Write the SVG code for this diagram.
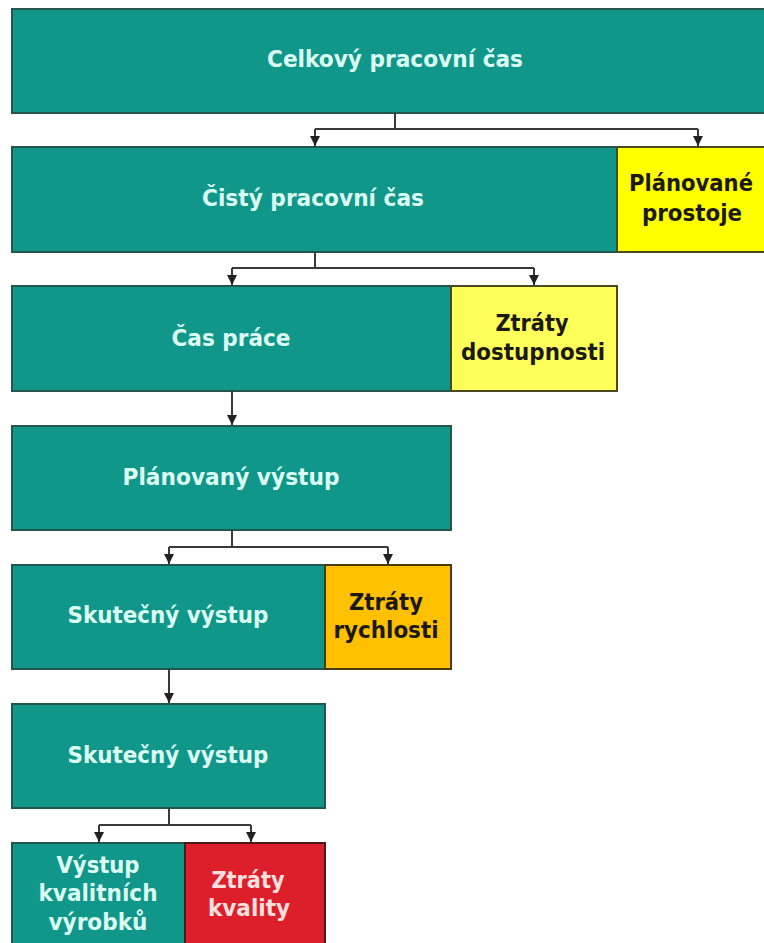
<svg xmlns="http://www.w3.org/2000/svg" width="764" height="943" viewBox="0 0 764 943">
<style>
.t{fill:#11968a;stroke:#23564d;stroke-width:2}
.y{fill:#ffff00;stroke:#4a4a20;stroke-width:2}
.ly{fill:#ffff5a;stroke:#4a4a20;stroke-width:2}
.o{fill:#ffc000;stroke:#4a3a10;stroke-width:2}
.r{fill:#dc1f2b;stroke:#4a1a1a;stroke-width:2}
text{font-family:"DejaVu Sans","Verdana",sans-serif;font-weight:bold;font-size:23px;text-anchor:middle}
.lt{fill:#dcfff4}
.dk{fill:#1c1a10}
.pk{fill:#ffe0e0}
.c{fill:none;stroke:#3a3a3a;stroke-width:2}
</style>
<defs>
<marker id="ah" viewBox="0 0 10 10" refX="10" refY="5" markerWidth="10" markerHeight="10" markerUnits="userSpaceOnUse" orient="auto">
<path d="M0,0 L10,5 L0,10 Z" fill="#222"/>
</marker>
</defs>
<rect width="764" height="943" fill="#ffffff"/>
<g id="celkovy">
<rect class="t" x="12" y="9" width="753" height="104"/>
<text class="lt" x="395" y="67" textLength="256" lengthAdjust="spacingAndGlyphs">Celkový pracovní čas</text>
</g>
<g id="cisty">
<rect class="t" x="12" y="147" width="605" height="105"/>
<text class="lt" x="313" y="206" textLength="222" lengthAdjust="spacingAndGlyphs">Čistý pracovní čas</text>
</g>
<g id="planovane-prostoje">
<rect class="y" x="617" y="147" width="148" height="105"/>
<text class="dk" x="691" y="191" textLength="124" lengthAdjust="spacingAndGlyphs">Plánované</text>
<text class="dk" x="692" y="221" textLength="100" lengthAdjust="spacingAndGlyphs">prostoje</text>
</g>
<g id="cas-prace">
<rect class="t" x="12" y="286" width="439" height="105"/>
<text class="lt" x="231" y="346" textLength="119" lengthAdjust="spacingAndGlyphs">Čas práce</text>
</g>
<g id="ztraty-dostupnosti">
<rect class="ly" x="451" y="286" width="166" height="105"/>
<text class="dk" x="532" y="331" textLength="73" lengthAdjust="spacingAndGlyphs">Ztráty</text>
<text class="dk" x="533" y="360" textLength="144" lengthAdjust="spacingAndGlyphs">dostupnosti</text>
</g>
<g id="planovany-vystup">
<rect class="t" x="12" y="426" width="439" height="104"/>
<text class="lt" x="231" y="485" textLength="217" lengthAdjust="spacingAndGlyphs">Plánovaný výstup</text>
</g>
<g id="skutecny-vystup-1">
<rect class="t" x="12" y="565" width="313" height="104"/>
<text class="lt" x="168" y="623" textLength="201" lengthAdjust="spacingAndGlyphs">Skutečný výstup</text>
</g>
<g id="ztraty-rychlosti">
<rect class="o" x="325" y="565" width="126" height="104"/>
<text class="dk" x="386" y="610" textLength="74" lengthAdjust="spacingAndGlyphs">Ztráty</text>
<text class="dk" x="386" y="638" textLength="105" lengthAdjust="spacingAndGlyphs">rychlosti</text>
</g>
<g id="skutecny-vystup-2">
<rect class="t" x="12" y="704" width="313" height="104"/>
<text class="lt" x="168" y="763" textLength="201" lengthAdjust="spacingAndGlyphs">Skutečný výstup</text>
</g>
<g id="vystup-kvalitnich">
<rect class="t" x="12" y="843" width="173" height="110"/>
<text class="lt" x="98" y="873" textLength="83" lengthAdjust="spacingAndGlyphs">Výstup</text>
<text class="lt" x="98" y="901" textLength="119" lengthAdjust="spacingAndGlyphs">kvalitních</text>
<text class="lt" x="98" y="930" textLength="99" lengthAdjust="spacingAndGlyphs">výrobků</text>
</g>
<g id="ztraty-kvality">
<rect class="r" x="185" y="843" width="140" height="110"/>
<text class="pk" x="248" y="888" textLength="73" lengthAdjust="spacingAndGlyphs">Ztráty</text>
<text class="pk" x="249" y="916" textLength="82" lengthAdjust="spacingAndGlyphs">kvality</text>
</g>
<g id="connectors">
<path class="c" d="M395,113 V129 M315,129 H698"/>
<path class="c" d="M315,129 V146" marker-end="url(#ah)"/>
<path class="c" d="M698,129 V146" marker-end="url(#ah)"/>
<path class="c" d="M315,252 V268 M232,268 H534"/>
<path class="c" d="M232,268 V285" marker-end="url(#ah)"/>
<path class="c" d="M534,268 V285" marker-end="url(#ah)"/>
<path class="c" d="M232,391 V425" marker-end="url(#ah)"/>
<path class="c" d="M232,530 V547 M169,547 H388"/>
<path class="c" d="M169,547 V564" marker-end="url(#ah)"/>
<path class="c" d="M388,547 V564" marker-end="url(#ah)"/>
<path class="c" d="M169,669 V703" marker-end="url(#ah)"/>
<path class="c" d="M169,808 V825 M99,825 H251"/>
<path class="c" d="M99,825 V842" marker-end="url(#ah)"/>
<path class="c" d="M251,825 V842" marker-end="url(#ah)"/>
</g>
</svg>
